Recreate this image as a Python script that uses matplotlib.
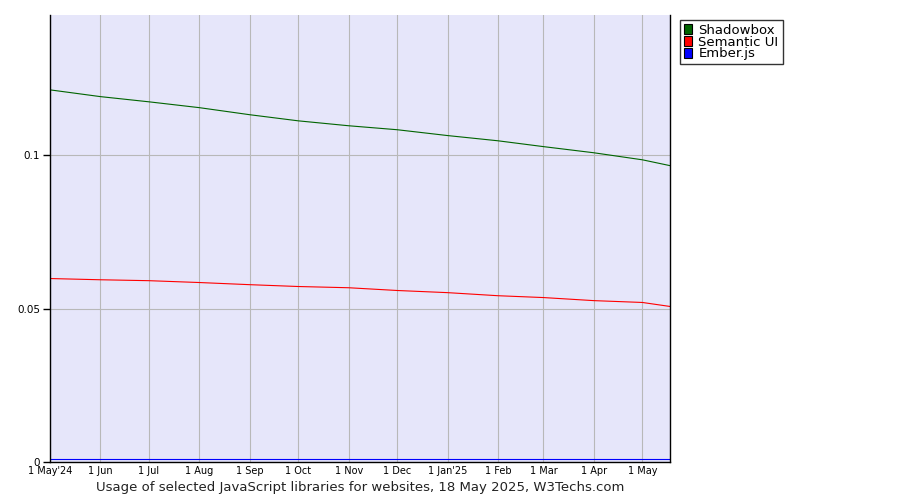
import matplotlib
matplotlib.use('Agg')
import matplotlib.pyplot as plt
import matplotlib.patches as mpatches
import datetime as dt

dates = [dt.date(2024, 5, 1), dt.date(2024, 6, 1), dt.date(2024, 7, 1), dt.date(2024, 8, 1),
         dt.date(2024, 9, 1), dt.date(2024, 10, 1), dt.date(2024, 11, 1), dt.date(2024, 12, 1),
         dt.date(2025, 1, 1), dt.date(2025, 2, 1), dt.date(2025, 3, 1), dt.date(2025, 4, 1),
         dt.date(2025, 5, 1), dt.date(2025, 5, 18)]
shadowbox = [0.1213, 0.1191, 0.1174, 0.1155, 0.1132, 0.1112, 0.1096, 0.1083,
             0.1064, 0.1047, 0.1028, 0.1008, 0.0985, 0.0966]
semantic_ui = [0.0598, 0.0594, 0.0591, 0.0585, 0.0578, 0.0572, 0.0568, 0.0559,
               0.0552, 0.0542, 0.0536, 0.0526, 0.0520, 0.0507]
ember = [0.0010, 0.0010, 0.0010, 0.0010, 0.0010, 0.0010, 0.0010, 0.0010,
         0.0010, 0.0010, 0.0010, 0.0010, 0.0010, 0.0010]

tick_dates = dates[:-1]
tick_labels = ["1 May'24", '1 Jun', '1 Jul', '1 Aug', '1 Sep', '1 Oct', '1 Nov', '1 Dec',
               "1 Jan'25", '1 Feb', '1 Mar', '1 Apr', '1 May']
series_names = ['Shadowbox', 'Semantic UI', 'Ember.js']
colors = ['#006400', '#ff0000', '#0000ff']

plt.rcParams['font.family'] = ['DejaVu Sans']

fig = plt.figure(figsize=(9, 5), dpi=100)
ax = fig.add_axes([50/900, 38/500, 620/900, 447/500])
ax.set_facecolor('#e6e6fa')

for vals, c in zip([shadowbox, semantic_ui, ember], colors):
    ax.plot(dates, vals, color=c, lw=0.8)

ax.set_xlim(dates[0], dates[-1])
ax.set_ylim(0, 0.1457)
ax.set_xticks(tick_dates)
ax.set_xticklabels(tick_labels, fontsize=7)
ax.set_yticks([0, 0.05, 0.1])
ax.set_yticklabels(['0', '0.05', '0.1'], fontsize=7.5)
ax.grid(True, color='#b8b8b8', lw=0.8)
ax.set_axisbelow(True)

ax.spines['top'].set_visible(False)
for s in ['left', 'bottom', 'right']:
    ax.spines[s].set_color('black')
    ax.spines[s].set_linewidth(1)
ax.tick_params(axis='y', length=5, width=1, pad=2)
ax.tick_params(axis='x', length=0, pad=3)

# legend box to the right of the plot
handles = [mpatches.Patch(facecolor=c, edgecolor='black', lw=0.8, label=n)
           for n, c in zip(series_names, colors)]
leg = fig.legend(handles=handles, loc='upper left', bbox_to_anchor=(680/900, 1 - 20/500),
                 fontsize=9.5, frameon=True, fancybox=False, handlelength=0.6,
                 handleheight=0.8, handletextpad=0.5, labelspacing=-0.1,
                 borderpad=0.3, borderaxespad=0)
leg.get_frame().set_edgecolor('black')
leg.get_frame().set_linewidth(1)

fig.text(360/900, 1 - 488/500, 'Usage of selected JavaScript libraries for websites, 18 May 2025, W3Techs.com',
         ha='center', va='center', fontsize=9.5, color='#222222')

fig.savefig('out.png', dpi=100)
